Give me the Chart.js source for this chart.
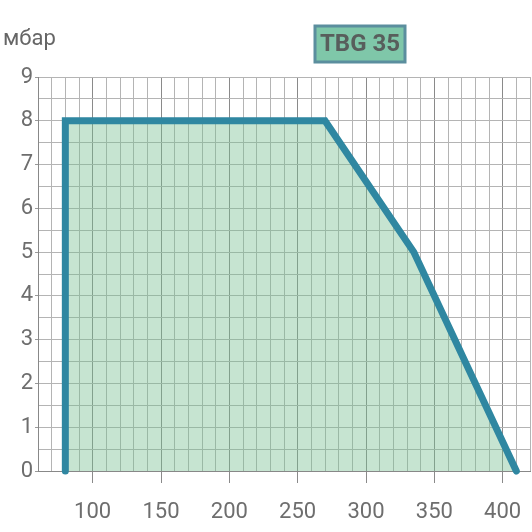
<!DOCTYPE html>
<html>
<head>
<meta charset="utf-8">
<script src="https://cdn.jsdelivr.net/npm/chart.js@4"></script>
<style>
  body { margin: 0; background: #fff; }
  #chart { display: block; }
</style>
</head>
<body>
<canvas id="chart" width="532" height="532"></canvas>
<script>
// outline of the working field
const flowValues = [80, 80, 270, 335, 410];
const pressureValues = [0, 8, 8, 5, 0];
const xLabelStep = 50;
const unitLabel = 'мбар';
const modelName = 'TBG 35';

const labelFont = { family: 'Roboto', size: 22 };
const labelColor = '#6e6e6e';

const boxPlugin = {
  id: 'boxPlugin',
  afterDraw(chart) {
    const c = chart.ctx;
    c.save();
    // unit at top left
    c.font = '22px Roboto';
    c.fillStyle = '#666';
    c.textAlign = 'left';
    c.textBaseline = 'alphabetic';
    c.fillText(unitLabel, 3, 45);
    // model box
    c.fillStyle = '#7fc7a9';
    c.fillRect(315, 26, 90, 36);
    c.strokeStyle = '#5b8e9e';
    c.lineWidth = 3;
    c.strokeRect(315, 26, 90, 36);
    c.font = 'bold 24px Roboto';
    c.fillStyle = '#585e5c';
    c.textAlign = 'center';
    c.textBaseline = 'middle';
    c.fillText(modelName, 360, 45);
    c.restore();
  }
};

new Chart(document.getElementById('chart'), {
  type: 'scatter',
  data: {
    datasets: [{
      data: flowValues.map((x, i) => ({ x: x, y: pressureValues[i] })),
      showLine: true,
      fill: 'origin',
      borderColor: '#2f87a1',
      backgroundColor: 'rgba(120, 190, 145, 0.42)',
      borderWidth: 7,
      borderCapStyle: 'round',
      borderJoinStyle: 'miter',
      pointRadius: 0,
      tension: 0,
      clip: false
    }]
  },
  options: {
    responsive: false,
    animation: false,
    layout: { padding: { top: 77, right: 2, left: 0, bottom: 0 } },
    plugins: { legend: { display: false }, tooltip: { enabled: false } },
    scales: {
      x: {
        type: 'linear',
        min: 60,
        max: 420,
        afterFit: s => { s.height = 61; s.paddingLeft = 0; s.paddingRight = 0; },
        border: { color: '#888', width: 1 },
        grid: {
          color: c => c.tick && c.tick.value % xLabelStep === 0 ? '#8a8a8a' : '#b4b4b4',
          tickColor: c => c.tick && c.tick.value % xLabelStep === 0 ? '#8a8a8a' : 'rgba(0,0,0,0)',
          tickLength: 12
        },
        ticks: {
          stepSize: 10,
          autoSkip: false,
          maxRotation: 0,
          padding: 16,
          font: labelFont,
          color: labelColor,
          callback: v => (v % xLabelStep === 0 && v >= 100) ? String(v) : ''
        }
      },
      y: {
        min: 0,
        max: 9,
        afterFit: s => { s.width = 38; },
        border: { color: '#888', width: 1 },
        grid: {
          color: '#b4b4b4',
          tickColor: c => c.tick && Number.isInteger(c.tick.value) ? '#999' : 'rgba(0,0,0,0)',
          tickLength: 3
        },
        ticks: {
          stepSize: 0.5,
          autoSkip: false,
          padding: 2,
          font: labelFont,
          color: labelColor,
          callback: v => Number.isInteger(v) ? String(v) : ''
        }
      }
    }
  },
  plugins: [boxPlugin]
});
</script>
</body>
</html>
